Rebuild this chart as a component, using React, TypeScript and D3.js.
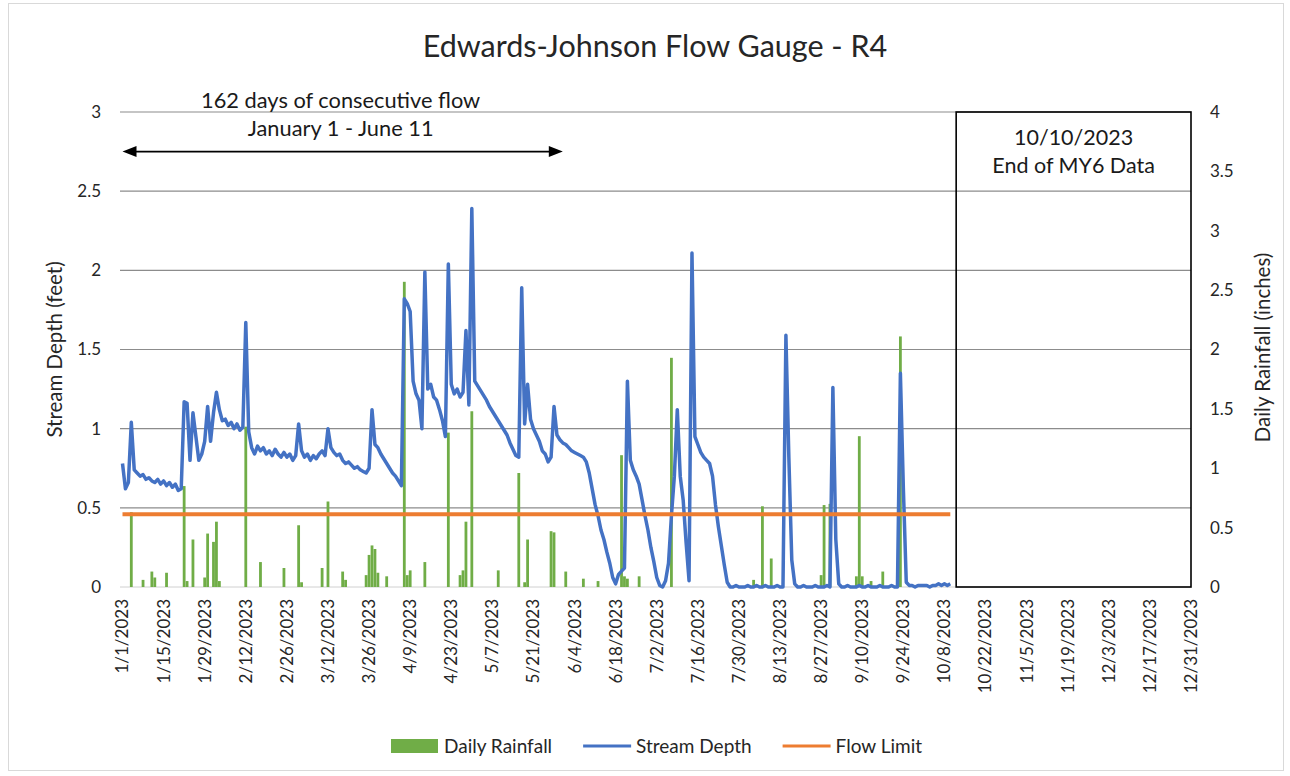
import * as d3 from 'd3';
import React, { useEffect, useRef } from 'react';

const chartTitle = 'Edwards-Johnson Flow Gauge - R4';

// daily stream depth (feet), one value per day starting 1/1/2023
const depthStart = '1/1/2023';
const depthJan = [0.78, 0.62, 0.66, 1.04, 0.74, 0.72, 0.70, 0.71, 0.68, 0.69, 0.67, 0.66, 0.68, 0.65, 0.67, 0.64, 0.66, 0.63, 0.65, 0.61, 0.62, 1.17, 1.16, 0.80, 1.10, 0.95, 0.80, 0.84, 0.92, 1.14, 0.92];
const depthFeb = [1.10, 1.23, 1.12, 1.05, 1.06, 1.02, 1.04, 1.00, 1.03, 0.99, 1.01, 1.67, 0.98, 0.88, 0.84, 0.89, 0.86, 0.88, 0.84, 0.86, 0.83, 0.87, 0.84, 0.82, 0.85, 0.82, 0.84, 0.80];
const depthMar = [0.83, 1.03, 0.86, 0.82, 0.84, 0.80, 0.83, 0.81, 0.84, 0.86, 0.83, 1.00, 0.88, 0.85, 0.83, 0.84, 0.80, 0.78, 0.79, 0.77, 0.75, 0.76, 0.74, 0.73, 0.72, 0.75, 1.12, 0.90, 0.88, 0.84, 0.81];
const depthApr = [0.78, 0.75, 0.72, 0.70, 0.67, 0.64, 1.82, 1.79, 1.74, 1.30, 1.22, 1.18, 1.00, 1.99, 1.25, 1.28, 1.20, 1.18, 1.12, 1.05, 0.95, 2.04, 1.28, 1.22, 1.25, 1.20, 1.23, 1.62, 1.15, 2.39];
const depthMay = [1.30, 1.27, 1.24, 1.21, 1.18, 1.14, 1.11, 1.08, 1.05, 1.02, 0.99, 0.96, 0.91, 0.87, 0.83, 0.82, 1.89, 1.03, 1.28, 1.06, 1.00, 0.96, 0.92, 0.86, 0.84, 0.79, 0.82, 1.14, 0.96, 0.93, 0.91];
const depthJun = [0.90, 0.88, 0.86, 0.85, 0.84, 0.83, 0.82, 0.79, 0.72, 0.62, 0.52, 0.45, 0.36, 0.30, 0.22, 0.15, 0.06, 0.02, 0.08, 0.10, 0.12, 1.30, 0.80, 0.74, 0.70, 0.65, 0.55, 0.45, 0.36, 0.25];
const depthJul = [0.16, 0.06, 0.01, 0.00, 0.04, 0.15, 0.45, 0.70, 1.12, 0.70, 0.55, 0.28, 0.04, 2.11, 0.95, 0.90, 0.85, 0.82, 0.80, 0.78, 0.70, 0.52, 0.38, 0.26, 0.14, 0.03, 0.00, 0.00, 0.01, 0.00, 0.00];
const depthAug = [0.00, 0.01, 0.00, 0.00, 0.01, 0.00, 0.00, 0.01, 0.00, 0.00, 0.00, 0.01, 0.00, 0.00, 1.59, 0.82, 0.17, 0.02, 0.00, 0.00, 0.01, 0.00, 0.00, 0.00, 0.01, 0.00, 0.00, 0.00, 0.01, 0.00, 1.26];
const depthSep = [0.30, 0.02, 0.00, 0.00, 0.01, 0.00, 0.00, 0.00, 0.01, 0.00, 0.00, 0.01, 0.00, 0.00, 0.00, 0.01, 0.00, 0.00, 0.00, 0.01, 0.00, 0.00, 1.35, 0.63, 0.03, 0.01, 0.01, 0.00, 0.01, 0.01];
const depthOct = [0.01, 0.01, 0.00, 0.01, 0.01, 0.02, 0.01, 0.02, 0.01, 0.02];

// daily rainfall (inches)
const rainDates = ['1/4/2023', '1/8/2023', '1/11/2023', '1/12/2023', '1/16/2023', '1/22/2023', '1/23/2023', '1/25/2023', '1/29/2023', '1/30/2023',
    '2/1/2023', '2/2/2023', '2/3/2023', '2/12/2023', '2/17/2023', '2/25/2023', '3/2/2023', '3/3/2023', '3/10/2023', '3/12/2023',
    '3/17/2023', '3/18/2023', '3/25/2023', '3/26/2023', '3/27/2023', '3/28/2023', '3/29/2023', '4/1/2023', '4/7/2023', '4/8/2023',
    '4/9/2023', '4/14/2023', '4/22/2023', '4/26/2023', '4/27/2023', '4/28/2023', '4/30/2023', '5/9/2023', '5/16/2023', '5/18/2023',
    '5/19/2023', '5/27/2023', '5/28/2023', '6/1/2023', '6/7/2023', '6/12/2023', '6/20/2023', '6/21/2023', '6/22/2023', '6/26/2023',
    '7/7/2023', '8/4/2023', '8/7/2023', '8/10/2023', '8/27/2023', '8/28/2023', '8/30/2023', '9/8/2023', '9/9/2023', '9/10/2023',
    '9/13/2023', '9/17/2023', '9/23/2023'];
const rainInches = [0.63, 0.06, 0.13, 0.08, 0.12, 0.85, 0.05, 0.40, 0.08, 0.45,
    0.38, 0.55, 0.05, 1.35, 0.21, 0.16, 0.52, 0.04, 0.16, 0.72,
    0.13, 0.06, 0.10, 0.27, 0.35, 0.32, 0.12, 0.09, 2.57, 0.10,
    0.14, 0.21, 1.30, 0.10, 0.14, 0.55, 1.48, 0.14, 0.96, 0.04,
    0.40, 0.47, 0.46, 0.13, 0.07, 0.05, 1.11, 0.09, 0.07, 0.09,
    1.93, 0.06, 0.68, 0.24, 0.10, 0.69, 0.70, 0.09, 1.27, 0.09,
    0.05, 0.13, 2.11];

const flowLimitFeet = 0.46;
const flowLimitDates = ['1/1/2023', '10/10/2023'];

const xTickLabels = ['1/1/2023', '1/15/2023', '1/29/2023', '2/12/2023', '2/26/2023', '3/12/2023', '3/26/2023', '4/9/2023', '4/23/2023',
    '5/7/2023', '5/21/2023', '6/4/2023', '6/18/2023', '7/2/2023', '7/16/2023', '7/30/2023', '8/13/2023', '8/27/2023', '9/10/2023',
    '9/24/2023', '10/8/2023', '10/22/2023', '11/5/2023', '11/19/2023', '12/3/2023', '12/17/2023', '12/31/2023'];
const depthTicks = [0, 0.5, 1, 1.5, 2, 2.5, 3];
const rainTicks = [0, 0.5, 1, 1.5, 2, 2.5, 3, 3.5, 4];

const flowNote = ['162 days of consecutive flow', 'January 1 - June 11'];
const flowNoteDates = ['1/1/2023', '5/31/2023'];
const endNote = ['10/10/2023', 'End of MY6 Data'];
const endBoxDates = ['10/12/2023', '12/31/2023'];

const legendNames = ['Daily Rainfall', 'Stream Depth', 'Flow Limit'];
const colors = { rain: '#70AD47', depth: '#4472C4', limit: '#ED7D31' };

const parseDate = (s: string) => {
    const [m, d, y] = s.split('/').map(Number);
    return new Date(y, m - 1, d);
};

const FlowGaugeChart = () => {
    const svgRef = useRef<SVGSVGElement>(null);
    const width = 1290;
    const height = 776;
    const plot = { left: 122.5, right: 1191, top: 112, bottom: 587 };
    const font = 'Lato, "Open Sans", sans-serif';

    useEffect(() => {
        if (!svgRef.current) return;
        const svg = d3.select(svgRef.current);
        svg.selectAll('*').remove();

        const x = d3.scaleTime()
            .domain([parseDate(xTickLabels[0]), parseDate(xTickLabels[xTickLabels.length - 1])])
            .range([plot.left, plot.right]);
        const yL = d3.scaleLinear().domain([0, 3]).range([plot.bottom, plot.top]);
        const yR = d3.scaleLinear().domain([0, 4]).range([plot.bottom, plot.top]);

        const start = parseDate(depthStart);
        const depth = [...depthJan, ...depthFeb, ...depthMar, ...depthApr, ...depthMay,
            ...depthJun, ...depthJul, ...depthAug, ...depthSep, ...depthOct]
            .map((v, i) => [d3.timeDay.offset(start, i), v] as [Date, number]);
        const rain = rainDates.map((d, i) => [parseDate(d), rainInches[i]] as [Date, number]);

        // outer border
        svg.append('rect')
            .attr('x', 8.5).attr('y', 3.5)
            .attr('width', 1275).attr('height', 767)
            .attr('fill', '#fff').attr('stroke', '#d9d9d9');

        // title
        svg.append('text')
            .attr('x', 655).attr('y', 57)
            .attr('text-anchor', 'middle')
            .style('font-family', font).style('font-size', '30.5px')
            .attr('fill', '#262626')
            .text(chartTitle);

        // gridlines
        svg.append('g').selectAll('line')
            .data(depthTicks.filter(t => t > 0))
            .enter().append('line')
            .attr('x1', plot.left - 2.5).attr('x2', plot.right)
            .attr('y1', d => yL(d)).attr('y2', d => yL(d))
            .attr('stroke', '#8c8c8c').attr('stroke-width', 1.2);
        svg.append('line')
            .attr('x1', plot.left - 2.5).attr('x2', plot.right)
            .attr('y1', yL(0)).attr('y2', yL(0))
            .attr('stroke', '#d0d0d0').attr('stroke-width', 1);

        // left axis labels
        svg.append('g').selectAll('text')
            .data(depthTicks)
            .enter().append('text')
            .attr('x', 101).attr('y', d => yL(d))
            .attr('dy', '0.35em').attr('text-anchor', 'end')
            .style('font-family', font).style('font-size', '17px')
            .attr('fill', '#262626')
            .text(d => d);

        // right axis labels
        svg.append('g').selectAll('text')
            .data(rainTicks)
            .enter().append('text')
            .attr('x', 1210).attr('y', d => yR(d))
            .attr('dy', '0.35em').attr('text-anchor', 'start')
            .style('font-family', font).style('font-size', '17px')
            .attr('fill', '#262626')
            .text(d => d);

        // x axis labels
        svg.append('g').selectAll('text')
            .data(xTickLabels)
            .enter().append('text')
            .attr('transform', d => `translate(${x(parseDate(d))},${plot.bottom + 12}) rotate(-90)`)
            .attr('dy', '0.35em').attr('text-anchor', 'end')
            .style('font-family', font).style('font-size', '17px')
            .attr('fill', '#262626')
            .text(d => d);

        // axis titles
        svg.append('text')
            .attr('transform', `translate(62,${(plot.top + plot.bottom) / 2}) rotate(-90)`)
            .attr('text-anchor', 'middle')
            .style('font-family', font).style('font-size', '20.5px')
            .attr('fill', '#262626')
            .text('Stream Depth (feet)');
        svg.append('text')
            .attr('transform', `translate(1270,${(plot.top + plot.bottom) / 2 - 2}) rotate(-90)`)
            .attr('text-anchor', 'middle')
            .style('font-family', font).style('font-size', '20.5px')
            .attr('fill', '#262626')
            .text('Daily Rainfall (inches)');

        // rainfall bars
        svg.append('g').selectAll('rect')
            .data(rain)
            .enter().append('rect')
            .attr('x', d => x(d[0]) - 1.4)
            .attr('width', 2.8)
            .attr('y', d => yR(d[1]))
            .attr('height', d => yR(0) - yR(d[1]))
            .attr('fill', colors.rain);

        // stream depth
        svg.append('path')
            .datum(depth)
            .attr('fill', 'none')
            .attr('stroke', colors.depth)
            .attr('stroke-width', 3.5)
            .attr('stroke-linejoin', 'round')
            .attr('d', d3.line<[Date, number]>()
                .x(d => x(d[0]))
                .y(d => yL(d[1])));

        // flow limit
        svg.append('line')
            .attr('x1', x(parseDate(flowLimitDates[0])))
            .attr('x2', x(parseDate(flowLimitDates[1])))
            .attr('y1', yL(flowLimitFeet)).attr('y2', yL(flowLimitFeet))
            .attr('stroke', colors.limit).attr('stroke-width', 4);

        // end of data box
        const bx0 = x(parseDate(endBoxDates[0]));
        const bx1 = x(parseDate(endBoxDates[1]));
        svg.append('rect')
            .attr('x', bx0).attr('y', yL(3))
            .attr('width', bx1 - bx0).attr('height', yL(0) - yL(3))
            .attr('fill', 'none').attr('stroke', '#000').attr('stroke-width', 1.6);
        endNote.forEach((t, i) => {
            svg.append('text')
                .attr('x', (bx0 + bx1) / 2).attr('y', 145 + i * 28)
                .attr('text-anchor', 'middle')
                .style('font-family', font).style('font-size', '21.5px')
                .attr('fill', '#1a1a1a')
                .text(t);
        });

        // consecutive flow note with double arrow
        const ax0 = x(parseDate(flowNoteDates[0]));
        const ax1 = x(parseDate(flowNoteDates[1]));
        const ay = yL(2.75);
        flowNote.forEach((t, i) => {
            svg.append('text')
                .attr('x', (ax0 + ax1) / 2 - 2).attr('y', 108 + i * 28)
                .attr('text-anchor', 'middle')
                .style('font-family', font).style('font-size', '21.8px')
                .attr('fill', '#1a1a1a')
                .text(t);
        });
        svg.append('line')
            .attr('x1', ax0 + 8).attr('x2', ax1 - 8)
            .attr('y1', ay).attr('y2', ay)
            .attr('stroke', '#000').attr('stroke-width', 1.6);
        svg.append('path')
            .attr('d', `M${ax0},${ay} l14,-5.5 l0,11 Z M${ax1},${ay} l-14,-5.5 l0,11 Z`)
            .attr('fill', '#000');

        // legend
        const legend = svg.append('g');
        let cx = 0;
        legendNames.forEach((name, i) => {
            if (i === 0) {
                legend.append('rect')
                    .attr('x', cx).attr('y', -7)
                    .attr('width', 47).attr('height', 14)
                    .attr('fill', colors.rain);
            } else {
                legend.append('line')
                    .attr('x1', cx).attr('x2', cx + 48)
                    .attr('y1', 0).attr('y2', 0)
                    .attr('stroke', i === 1 ? colors.depth : colors.limit)
                    .attr('stroke-width', 3);
            }
            cx += 53;
            const txt = legend.append('text')
                .attr('x', cx).attr('y', 0).attr('dy', '0.35em')
                .style('font-family', font).style('font-size', '19px')
                .attr('fill', '#262626')
                .text(name);
            cx += (txt.node() as SVGTextElement).getComputedTextLength() + 31;
        });
        const legendWidth = cx - 31;
        legend.attr('transform', `translate(${656.5 - legendWidth / 2},746)`);
    }, []);

    return (
        <svg ref={svgRef} width={width} height={height}
            style={{ position: 'absolute', left: 0, top: 0, background: '#fff' }} />
    );
};

export default function App() {
    return <FlowGaugeChart />;
}
